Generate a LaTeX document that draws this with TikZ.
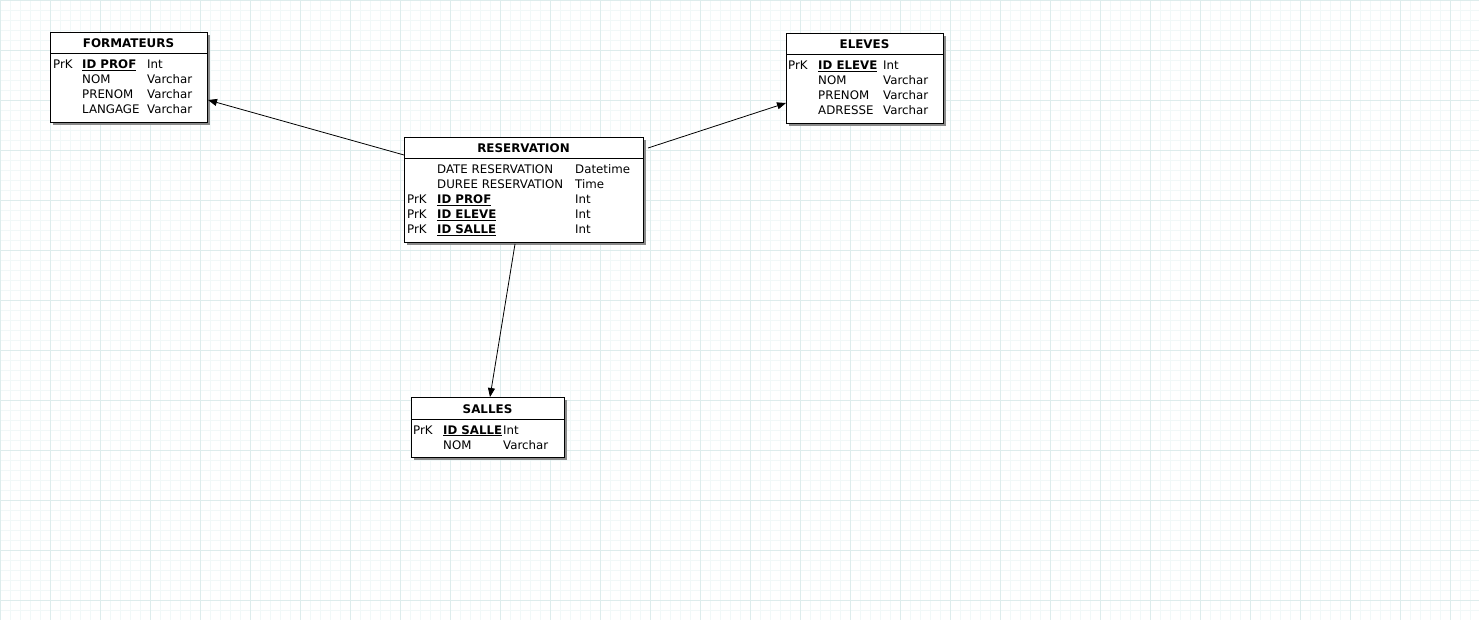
\documentclass[tikz,border=0pt]{standalone}
\usepackage{fontspec}
\setmainfont{DejaVu Sans}
\usetikzlibrary{arrows.meta,calc}
\definecolor{gridminor}{HTML}{F1F8F8}
\definecolor{gridmajor}{HTML}{DDECEC}
\definecolor{shadowc}{HTML}{8A8A8A}
\begin{document}
\begin{tikzpicture}[x=1pt,y=-1pt,
  tbl/.style={draw=black, line width=1pt, fill=white, anchor=north west, inner sep=0pt},
  shd/.style={fill=shadowc},
  hdr/.style={line width=1pt},
  txt/.style={anchor=base west, inner sep=0pt, font=\fontsize{11.8}{14}\selectfont},
  key/.style={txt, font=\fontsize{11.8}{14}\selectfont\bfseries},
  ttl/.style={anchor=base, inner sep=0pt, font=\fontsize{11.9}{14}\selectfont\bfseries},
  conn/.style={line width=0.8pt, -{Triangle[length=9pt,width=7pt]}},
  gmin/.style={draw=gridminor, line width=0.8pt},
  gmaj/.style={draw=gridmajor, line width=0.8pt}]
\useasboundingbox (0,0) rectangle (1479,620);
\fill[white] (0,0) rectangle (1479,620);
\foreach \x in {0,10,...,1470} \draw[gmin] (\x+0.5,0) -- (\x+0.5,620);
\foreach \y in {0,10,...,610} \draw[gmin] (0,\y+0.5) -- (1479,\y+0.5);
\foreach \x in {0,50,...,1450} \draw[gmaj] (\x+0.5,0) -- (\x+0.5,620);
\foreach \y in {0,50,...,600} \draw[gmaj] (0,\y+0.5) -- (1479,\y+0.5);

% FORMATEURS
\fill[shd] (53,35) rectangle (210,125);
\node[tbl, minimum width=157pt, minimum height=90pt] (form) at (50,32) {};
\draw[hdr] ($(form.north west)+(0,22)$) -- ($(form.north east)+(0,22)$);
\node[ttl] (formT) at (128.5,48) {FORMATEURS};
\node[txt] (fk1) at (53,69) {PrK};
\node[key] (fn1) at (82,69) {\underline{ID PROF}};
\node[txt] (ft1) at (147,69) {Int};
\node[txt] (fn2) at (82,84) {NOM};
\node[txt] (ft2) at (147,84) {Varchar};
\node[txt] (fn3) at (82,99) {PRENOM};
\node[txt] (ft3) at (147,99) {Varchar};
\node[txt] (fn4) at (82,114) {LANGAGE};
\node[txt] (ft4) at (147,114) {Varchar};

% ELEVES
\fill[shd] (789,36) rectangle (946,126);
\node[tbl, minimum width=157pt, minimum height=90pt] (elev) at (786,33) {};
\draw[hdr] ($(elev.north west)+(0,22)$) -- ($(elev.north east)+(0,22)$);
\node[ttl] (elevT) at (864.5,49) {ELEVES};
\node[txt] (ek1) at (788,70) {PrK};
\node[key] (en1) at (818,70) {\underline{ID ELEVE}};
\node[txt] (et1) at (883,70) {Int};
\node[txt] (en2) at (818,85) {NOM};
\node[txt] (et2) at (883,85) {Varchar};
\node[txt] (en3) at (818,100) {PRENOM};
\node[txt] (et3) at (883,100) {Varchar};
\node[txt] (en4) at (818,115) {ADRESSE};
\node[txt] (et4) at (883,115) {Varchar};

% RESERVATION
\fill[shd] (407,140) rectangle (646,245);
\node[tbl, minimum width=239pt, minimum height=105pt] (res) at (404,137) {};
\draw[hdr] ($(res.north west)+(0,22)$) -- ($(res.north east)+(0,22)$);
\node[ttl] (resT) at (523.5,153) {RESERVATION};
\node[txt] (rn1) at (437,174) {DATE RESERVATION};
\node[txt] (rt1) at (575,174) {Datetime};
\node[txt] (rn2) at (437,189) {DUREE RESERVATION};
\node[txt] (rt2) at (575,189) {Time};
\node[txt] (rk3) at (407,204) {PrK};
\node[key] (rn3) at (437,204) {\underline{ID PROF}};
\node[txt] (rt3) at (575,204) {Int};
\node[txt] (rk4) at (407,219) {PrK};
\node[key] (rn4) at (437,219) {\underline{ID ELEVE}};
\node[txt] (rt4) at (575,219) {Int};
\node[txt] (rk5) at (407,234) {PrK};
\node[key] (rn5) at (437,234) {\underline{ID SALLE}};
\node[txt] (rt5) at (575,234) {Int};

% SALLES
\fill[shd] (414,400) rectangle (567,460);
\node[tbl, minimum width=153pt, minimum height=60pt] (sal) at (411,397) {};
\draw[hdr] ($(sal.north west)+(0,22)$) -- ($(sal.north east)+(0,22)$);
\node[ttl] (salT) at (487.5,413) {SALLES};
\node[txt] (sk1) at (413,434) {PrK};
\node[key] (sn1) at (443,434) {\underline{ID SALLE}};
\node[txt] (st1) at (503,434) {Int};
\node[txt] (sn2) at (443,449) {NOM};
\node[txt] (st2) at (503,449) {Varchar};

% connectors
\draw[conn] ($(res.north west)+(0,18)$) -- ($(form.north east)+(0,68)$);
\draw[conn] ($(res.north east)+(4,11)$) -- ($(elev.north west)+(0,70)$);
\draw[conn] ($(res.south west)+(111,1)$) -- ($(sal.north west)+(79,0)$);
\end{tikzpicture}
\end{document}
